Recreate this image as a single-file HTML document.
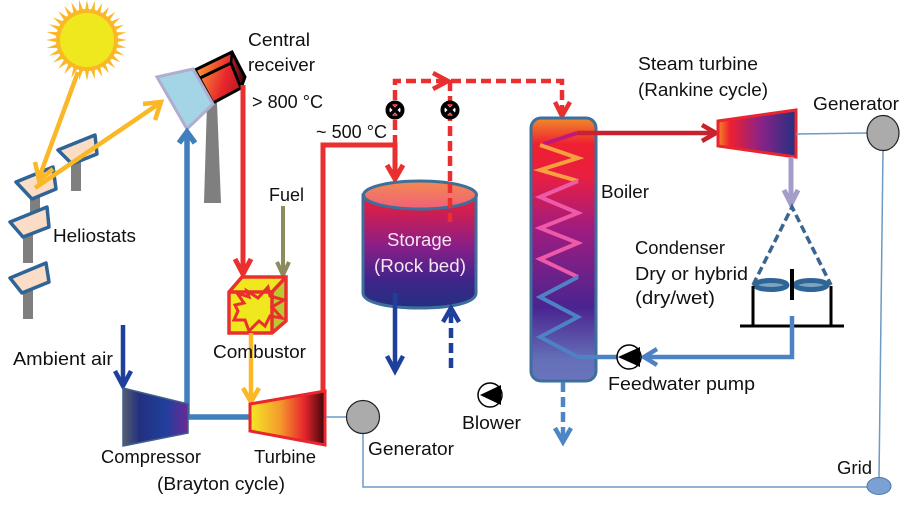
<!DOCTYPE html>
<html><head><meta charset="utf-8"><style>
html,body{margin:0;padding:0;background:#fff;width:923px;height:509px;overflow:hidden}
svg{display:block}
text{font-family:"Liberation Sans",sans-serif;font-size:18px;fill:#111}
.n{fill:none;stroke-linejoin:miter}
</style></head><body>
<svg width="923" height="509" viewBox="0 0 923 509" xmlns="http://www.w3.org/2000/svg">
<defs>
<linearGradient id="rc" x1="0" y1="0" x2="1" y2="0.35"><stop offset="0" stop-color="#f9b233"/><stop offset=".75" stop-color="#e8262c"/><stop offset="1" stop-color="#c81c28"/></linearGradient>
<linearGradient id="rs" x1="0" y1="0" x2="1" y2="0"><stop offset="0" stop-color="#c0202a"/><stop offset="1" stop-color="#2a0508"/></linearGradient>
<linearGradient id="cp" x1="0" y1="0" x2="1" y2="0"><stop offset="0" stop-color="#555f70"/><stop offset=".25" stop-color="#24307f"/><stop offset=".65" stop-color="#1f3f9c"/><stop offset="1" stop-color="#6a2a96"/></linearGradient>
<linearGradient id="tb" x1="0" y1="0" x2="1" y2="0"><stop offset="0" stop-color="#f4ea24"/><stop offset=".4" stop-color="#f49a2c"/><stop offset=".72" stop-color="#e8262c"/><stop offset="1" stop-color="#3c0508"/></linearGradient>
<linearGradient id="st" x1="0" y1="0" x2="0" y2="1"><stop offset="0" stop-color="#f01e36"/><stop offset=".45" stop-color="#8a1e88"/><stop offset=".75" stop-color="#40248a"/><stop offset="1" stop-color="#243080"/></linearGradient>
<linearGradient id="sl" x1="0" y1="0" x2="0" y2="1"><stop offset="0" stop-color="#f28a50"/><stop offset="1" stop-color="#f0607a"/></linearGradient>
<linearGradient id="bo" x1="0" y1="0" x2="0" y2="1"><stop offset="0" stop-color="#f08a2a"/><stop offset=".1" stop-color="#ee2030"/><stop offset=".22" stop-color="#ea1e40"/><stop offset=".42" stop-color="#a01c80"/><stop offset=".72" stop-color="#4a2490"/><stop offset=".92" stop-color="#6470b8"/><stop offset="1" stop-color="#6a74bc"/></linearGradient>
<linearGradient id="sm" x1="0" y1="0" x2="1" y2="0"><stop offset="0" stop-color="#f58a2a"/><stop offset=".15" stop-color="#ee2030"/><stop offset=".55" stop-color="#8a2288"/><stop offset="1" stop-color="#24307f"/></linearGradient>
</defs>

<!-- Sun -->
<g fill="#fbb826">
<polygon id="d" points="87,0 95,40 87,81 79,40"/>
<use href="#d" transform="rotate(11.25 87 40)"/><use href="#d" transform="rotate(22.5 87 40)"/><use href="#d" transform="rotate(33.75 87 40)"/>
<use href="#d" transform="rotate(45 87 40)"/><use href="#d" transform="rotate(56.25 87 40)"/><use href="#d" transform="rotate(67.5 87 40)"/><use href="#d" transform="rotate(78.75 87 40)"/>
<use href="#d" transform="rotate(90 87 40)"/><use href="#d" transform="rotate(101.25 87 40)"/><use href="#d" transform="rotate(112.5 87 40)"/><use href="#d" transform="rotate(123.75 87 40)"/>
<use href="#d" transform="rotate(135 87 40)"/><use href="#d" transform="rotate(146.25 87 40)"/><use href="#d" transform="rotate(157.5 87 40)"/><use href="#d" transform="rotate(168.75 87 40)"/>
<circle cx="87" cy="40" r="31"/>
</g>
<circle cx="87" cy="40" r="27" fill="#f0e81e"/>

<!-- Heliostats -->
<g fill="#7f7f7f">
<rect x="71" y="158" width="10" height="33"/><rect x="30" y="195" width="10" height="20"/>
<rect x="23" y="232" width="10" height="31"/><rect x="23" y="288" width="10" height="31"/>
</g>
<g fill="#fbdcc6" stroke="#2f6596" stroke-width="3.500" stroke-linejoin="round">
<polygon points="58,150 95,135 97,154 72,164"/>
<polygon points="16,182 53,167 56,189 32,199"/>
<polygon points="10,222 47,207 49,227 23,237"/>
<polygon points="10,278 46,263 49,282 22,293"/>
</g>

<!-- Tower, receiver, mirror -->
<polygon points="207,103 217,103 221,203 204,203" fill="#7f7f7f"/>
<polygon points="195,70 232,52 231,63 241,88 213,103" fill="url(#rc)"/>
<polygon points="231,52 245,77 241,88 231,63" fill="url(#rs)"/>
<polygon points="195,70 232,52 245,77 241,88 213,103" class="n" stroke="#000" stroke-width="3"/>
<polyline points="198,79 231,63 241,88" class="n" stroke="#000" stroke-width="3"/>
<line x1="231" y1="63" x2="232" y2="52" stroke="#000" stroke-width="2.500"/>
<polygon points="157,77 193,69 213,104 187,129" fill="#a4d5e6" stroke="#b0aed0" stroke-width="3"/>

<!-- Yellow rays -->
<g class="n" stroke="#fbb826" stroke-width="4.500">
<line x1="78" y1="72" x2="39" y2="178"/><polyline points="35,162 39,180 53,169"/>
<line x1="35" y1="188" x2="160" y2="103"/><polyline points="143,104 161,102 155,120"/>
</g>

<!-- Blue air line -->
<g class="n" stroke="#3f7fbc" stroke-width="5.500">
<polyline points="187,133 187,417 250,417"/>
<polyline points="179,143 187,132 195,143"/>
</g>

<!-- Red line from receiver -->
<g class="n" stroke="#e9302f" stroke-width="5">
<line x1="243" y1="85" x2="243" y2="273"/>
<polyline points="235,259 243,274 251,259"/>
</g>
<!-- Fuel -->
<g class="n" stroke="#8b8b5e" stroke-width="4">
<line x1="283" y1="206" x2="283" y2="274"/>
<polyline points="277,262 283,275 289,262"/>
</g>

<!-- Combustor -->
<polygon points="229,292 242,277 286,277 286,321 272,333 229,333" fill="#f0e81e"/>
<polygon points="272,292 286,277 286,321 272,333" fill="#bcc82f"/>
<g class="n" stroke="#e9302f" stroke-width="3.500">
<polygon points="229,292 242,277 286,277 286,321 272,333 229,333"/>
<polyline points="229,292 272,292 272,333"/><line x1="272" y1="292" x2="286" y2="277"/>
<polygon points="247,291 258,298 268,287 270,296 284,300 272,307 282,318 270,316 265,326 259,321 249,331 245,320 234,320 238,311 235,305 244,303 237,293 249,297" stroke-width="3"/>
</g>
<!-- Combustor to turbine -->
<g class="n" stroke="#fbb826" stroke-width="4.500">
<line x1="251" y1="333" x2="251" y2="401"/><polyline points="243,388 251,402 259,388"/>
</g>

<!-- Ambient air -->
<g class="n" stroke="#1f3f9c" stroke-width="4.500">
<line x1="123" y1="325" x2="123" y2="385"/><polyline points="115,371 123,386 131,371"/>
</g>

<!-- Compressor & turbine -->
<polygon points="123,388 188,404 188,433 123,446" fill="url(#cp)" stroke="#3f5f8c" stroke-width="1.500"/>
<polygon points="250,404 325,391 325,445 250,431" fill="url(#tb)" stroke="#e9262e" stroke-width="3"/>

<!-- Turbine to storage -->
<g class="n" stroke="#e9302f" stroke-width="5">
<polyline points="323,392 323,145 395,145 395,178"/>
<polyline points="387,165 395,179 403,165"/>
</g>

<!-- Dashed red -->
<g class="n" stroke="#e9302f" stroke-width="4.500">
<polyline points="395,145 395,81 562,81 562,115" stroke-dasharray="10 5"/>
<line x1="450" y1="81" x2="450" y2="222" stroke-dasharray="10 5"/>
<polyline points="433,73 448,81 433,89"/>
<polyline points="555,102 562,116 570,102"/>
</g>

<!-- Valves -->
<g>
<circle cx="395" cy="110" r="7.500" fill="#fff" stroke="#000" stroke-width="4"/>
<circle cx="450" cy="110" r="7.500" fill="#fff" stroke="#000" stroke-width="4"/>
<g stroke="#000" stroke-width="3.500"><line x1="390" y1="105" x2="400" y2="115"/><line x1="400" y1="105" x2="390" y2="115"/><line x1="445" y1="105" x2="455" y2="115"/><line x1="455" y1="105" x2="445" y2="115"/></g>
<g fill="#e9302f"><polygon points="392,104 398,104 395,107"/><polygon points="392,116 398,116 395,113"/><polygon points="447,104 453,104 450,107"/><polygon points="447,116 453,116 450,113"/></g>
</g>

<!-- Storage -->
<path d="M363,195 V293 C363,303 390,308 420,308 C450,308 476,303 476,293 V195 Z" fill="url(#st)" stroke="#3d6f9c" stroke-width="3"/>
<ellipse cx="420" cy="195" rx="56.500" ry="14" fill="url(#sl)" stroke="#3d6f9c" stroke-width="3"/>
<line x1="450" y1="183" x2="450" y2="222" stroke="#e9302f" stroke-width="4.500" stroke-dasharray="10 5"/>
<text x="387" y="246" textLength="65" lengthAdjust="spacingAndGlyphs" style="fill:#f4e6f2">Storage</text>
<text x="374" y="272" textLength="92" lengthAdjust="spacingAndGlyphs" style="fill:#f4e6f2">(Rock bed)</text>

<!-- Storage out -->
<g class="n" stroke="#1f3f9c" stroke-width="4.500">
<line x1="395" y1="293" x2="395" y2="370"/><polyline points="387,356 395,371 403,356"/>
<line x1="451" y1="368" x2="451" y2="310" stroke-dasharray="10 5"/><polyline points="443,322 451,308 459,322"/>
</g>

<!-- Blower -->
<circle cx="490" cy="395" r="12" fill="#fff" stroke="#000" stroke-width="1.500"/>
<polygon points="480,395 501,385 501,405" fill="#000"/>

<!-- Boiler -->
<rect x="531" y="118" width="65" height="263" rx="10" fill="url(#bo)" stroke="#3d6f9c" stroke-width="3"/>
<g class="n" stroke-width="4">
<polyline points="544,144 577,133" stroke="#c0187a"/>
<polyline points="540,145 578,158 540,170 578,181" stroke="#f8a040"/>
<polyline points="578,181 540,197 578,213 540,228 578,243 540,259 578,277" stroke="#ee5aa8"/>
<polyline points="578,277 540,297 578,317 540,337 578,357 596,357" stroke="#4d82c4"/>
</g>
<!-- Boiler out -->
<g class="n" stroke="#4d86c4" stroke-width="4.500">
<line x1="563" y1="382" x2="563" y2="438" stroke-dasharray="10 5"/>
<polyline points="555,428 563,442 571,428"/>
</g>

<!-- Steam to turbine -->
<g class="n" stroke="#c8222e" stroke-width="4.500">
<line x1="577" y1="133" x2="716" y2="133"/><polyline points="702,125 716,133 702,141"/>
</g>
<polygon points="718,121 796,110 796,157 718,146" fill="url(#sm)" stroke="#e9262e" stroke-width="3"/>

<!-- Lavender arrow -->
<g class="n" stroke="#a49dc9" stroke-width="5">
<line x1="791" y1="157" x2="791" y2="203"/><polyline points="784,190 791,204 798,190"/>
</g>

<!-- Condenser -->
<g class="n" stroke="#3a6590" stroke-width="3.500" stroke-dasharray="8 4">
<polyline points="753,285 792,207 831,285"/>
</g>
<g fill="#7fa3c2" stroke="#2f6596" stroke-width="5">
<ellipse cx="771" cy="285" rx="16" ry="4.500"/>
<ellipse cx="811" cy="285" rx="16" ry="4.500"/>
</g>
<g class="n" stroke="#000" stroke-width="3">
<polyline points="753,286 753,326"/><polyline points="831,286 831,326"/>
<line x1="740" y1="326" x2="844" y2="326"/>
<line x1="792" y1="269" x2="792" y2="300" stroke-width="4"/>
</g>
<g class="n" stroke="#4d82c4" stroke-width="4.500">
<polyline points="792,316 792,357 645,357"/>
<polyline points="657,349 644,357 657,365"/>
<line x1="596" y1="357" x2="618" y2="357"/>
</g>

<!-- Feed pump -->
<circle cx="629" cy="357" r="12" fill="#fff" stroke="#000" stroke-width="1.500"/>
<polygon points="618,357 640,347 640,367" fill="#000"/>

<!-- Electrical -->
<g class="n" stroke="#6d9ac6" stroke-width="1.500">
<line x1="796" y1="134" x2="868" y2="133"/>
<line x1="883" y1="150" x2="879" y2="479"/>
<line x1="326" y1="417" x2="348" y2="417"/>
<polyline points="363,433 363,487 868,487"/>
</g>
<ellipse cx="883" cy="133" rx="16" ry="17.500" fill="#ababab" stroke="#222" stroke-width="1.200"/>
<circle cx="363" cy="417" r="16.500" fill="#ababab" stroke="#222" stroke-width="1.200"/>
<ellipse cx="879" cy="486" rx="12" ry="8.500" fill="#7ba1d2" stroke="#4d76a8" stroke-width="1"/>

<!-- Labels -->
<text x="248" y="46" textLength="62" lengthAdjust="spacingAndGlyphs">Central</text>
<text x="248" y="71" textLength="67" lengthAdjust="spacingAndGlyphs">receiver</text>
<text x="252" y="108" textLength="71" lengthAdjust="spacingAndGlyphs">&gt; 800 °C</text>
<text x="316" y="138" textLength="71" lengthAdjust="spacingAndGlyphs">~ 500 °C</text>
<text x="269" y="201" textLength="35" lengthAdjust="spacingAndGlyphs">Fuel</text>
<text x="53" y="242" textLength="83" lengthAdjust="spacingAndGlyphs">Heliostats</text>
<text x="13" y="365" textLength="100" lengthAdjust="spacingAndGlyphs">Ambient air</text>
<text x="213" y="358" textLength="93" lengthAdjust="spacingAndGlyphs">Combustor</text>
<text x="101" y="463" textLength="100" lengthAdjust="spacingAndGlyphs">Compressor</text>
<text x="254" y="463" textLength="62" lengthAdjust="spacingAndGlyphs">Turbine</text>
<text x="157" y="490" textLength="128" lengthAdjust="spacingAndGlyphs">(Brayton cycle)</text>
<text x="368" y="455" textLength="86" lengthAdjust="spacingAndGlyphs">Generator</text>
<text x="462" y="429" textLength="59" lengthAdjust="spacingAndGlyphs">Blower</text>
<text x="601" y="198" textLength="48" lengthAdjust="spacingAndGlyphs">Boiler</text>
<text x="638" y="70" textLength="120" lengthAdjust="spacingAndGlyphs">Steam turbine</text>
<text x="638" y="96" textLength="130" lengthAdjust="spacingAndGlyphs">(Rankine cycle)</text>
<text x="813" y="110" textLength="86" lengthAdjust="spacingAndGlyphs">Generator</text>
<text x="635" y="254" textLength="90" lengthAdjust="spacingAndGlyphs">Condenser</text>
<text x="635" y="280" textLength="113" lengthAdjust="spacingAndGlyphs">Dry or hybrid</text>
<text x="635" y="304" textLength="80" lengthAdjust="spacingAndGlyphs">(dry/wet)</text>
<text x="608" y="390" textLength="147" lengthAdjust="spacingAndGlyphs">Feedwater pump</text>
<text x="837" y="474" textLength="35" lengthAdjust="spacingAndGlyphs">Grid</text>
</svg>
</body></html>
